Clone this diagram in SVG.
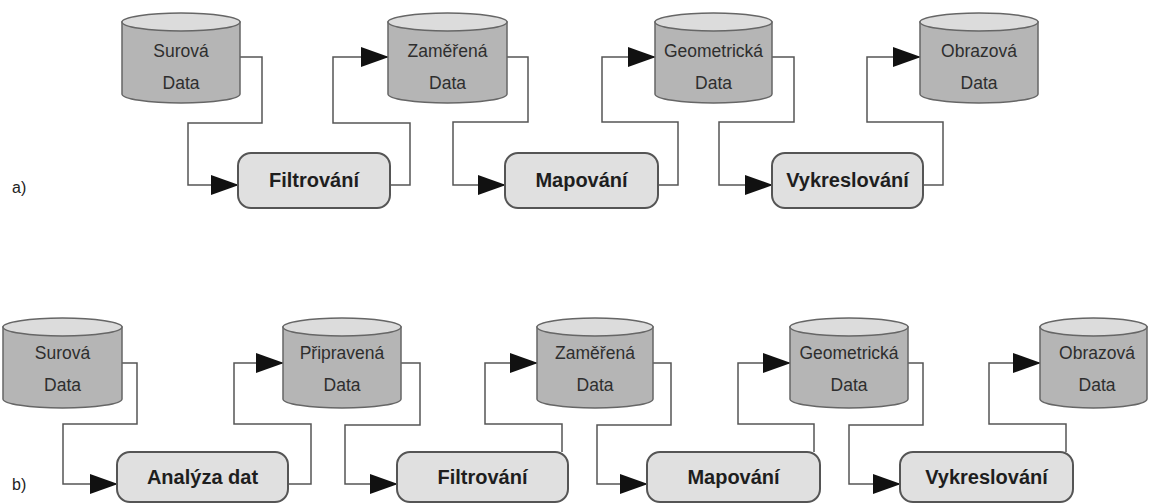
<svg xmlns="http://www.w3.org/2000/svg" width="1149" height="504" viewBox="0 0 1149 504">
<defs>
<style>
.body{fill:#b5b5b5;stroke:#666;stroke-width:1.5}
.top{fill:#dcdcdc;stroke:#666;stroke-width:1.5}
.box{fill:#e0e0e0;stroke:#555;stroke-width:2}
.ct{font-family:"Liberation Sans",Arial,sans-serif;font-size:17.5px;fill:#2e2e2e;text-anchor:middle}
.bt{font-family:"Liberation Sans",Arial,sans-serif;font-size:20px;font-weight:bold;fill:#1e1e1e;text-anchor:middle}
.lbl{font-family:"Liberation Sans",Arial,sans-serif;font-size:16px;fill:#222}
.c{fill:none;stroke:#555;stroke-width:1.5;marker-end:url(#ah)}
</style>
<marker id="ah" markerUnits="userSpaceOnUse" markerWidth="28" markerHeight="20" refX="27" refY="10" orient="auto" viewBox="0 0 28 20">
<path d="M0,0 L28,10 L0,20 Z" fill="#111"/>
</marker>
</defs>
<rect width="1149" height="504" fill="#fff"/>

<text class="lbl" x="12" y="193">a)</text>
<text class="lbl" x="12" y="490">b)</text>

<g id="connectors">
<path class="c" d="M240,57 H262 V123 H188 V185 H238"/>
<path class="c" d="M390,185 H410 V123 H333 V57 H388"/>
<path class="c" d="M507,57 H528 V122 H453 V185 H505"/>
<path class="c" d="M658,185 H678 V122 H602 V57 H655"/>
<path class="c" d="M772,57 H794 V122 H719 V185 H772"/>
<path class="c" d="M923,185 H943 V122 H867 V57 H920"/>

<path class="c" d="M122,363 H137 V424 H63 V484 H117"/>
<path class="c" d="M288,484 H311 V424 H234 V363 H283"/>
<path class="c" d="M401,363 H420 V425 H345 V484 H397"/>
<path class="c" d="M562,452 V424 H485 V363 H537"/>
<path class="c" d="M653,363 H671 V425 H597 V484 H647"/>
<path class="c" d="M814,452 V424 H738 V363 H790"/>
<path class="c" d="M908,363 H923 V425 H849 V484 H900"/>
<path class="c" d="M1066,452 V424 H989 V363 H1040"/>
</g>

<!-- Row a -->
<g id="a-surova">
<path class="body" d="M122,22 V94 A59,9 0 0 0 240,94 V22 Z"/>
<ellipse class="top" cx="181" cy="22" rx="59" ry="9"/>
<text class="ct" x="181" y="57">Surová</text>
<text class="ct" x="181" y="89">Data</text>
</g>
<g id="a-filtrovani">
<rect class="box" x="238" y="153" width="152" height="55" rx="13"/>
<text class="bt" x="314" y="187">Filtrování</text>
</g>
<g id="a-zamerena">
<path class="body" d="M388,22 V94 A59.5,9 0 0 0 507,94 V22 Z"/>
<ellipse class="top" cx="447.5" cy="22" rx="59.5" ry="9"/>
<text class="ct" x="447.5" y="57">Zaměřená</text>
<text class="ct" x="447.5" y="89">Data</text>
</g>
<g id="a-mapovani">
<rect class="box" x="505" y="153" width="153" height="55" rx="13"/>
<text class="bt" x="581.5" y="187">Mapování</text>
</g>
<g id="a-geometricka">
<path class="body" d="M655,22 V94 A58.5,9 0 0 0 772,94 V22 Z"/>
<ellipse class="top" cx="713.5" cy="22" rx="58.5" ry="9"/>
<text class="ct" x="713.5" y="57">Geometrická</text>
<text class="ct" x="713.5" y="89">Data</text>
</g>
<g id="a-vykreslovani">
<rect class="box" x="772" y="153" width="151" height="55" rx="13"/>
<text class="bt" x="847.5" y="187">Vykreslování</text>
</g>
<g id="a-obrazova">
<path class="body" d="M920,22 V94 A59,9 0 0 0 1038,94 V22 Z"/>
<ellipse class="top" cx="979" cy="22" rx="59" ry="9"/>
<text class="ct" x="979" y="57">Obrazová</text>
<text class="ct" x="979" y="89">Data</text>
</g>

<!-- Row b -->
<g id="b-surova">
<path class="body" d="M3,327 V399 A59.5,9 0 0 0 122,399 V327 Z"/>
<ellipse class="top" cx="62.5" cy="327" rx="59.5" ry="9"/>
<text class="ct" x="62.5" y="359">Surová</text>
<text class="ct" x="62.5" y="391">Data</text>
</g>
<g id="b-analyza">
<rect class="box" x="117" y="452" width="171" height="50" rx="13"/>
<text class="bt" x="202.5" y="484">Analýza dat</text>
</g>
<g id="b-pripravena">
<path class="body" d="M283,327 V399 A59,9 0 0 0 401,399 V327 Z"/>
<ellipse class="top" cx="342" cy="327" rx="59" ry="9"/>
<text class="ct" x="342" y="359">Připravená</text>
<text class="ct" x="342" y="391">Data</text>
</g>
<g id="b-filtrovani">
<rect class="box" x="397" y="452" width="171" height="50" rx="13"/>
<text class="bt" x="482.5" y="484">Filtrování</text>
</g>
<g id="b-zamerena">
<path class="body" d="M537,327 V399 A58,9 0 0 0 653,399 V327 Z"/>
<ellipse class="top" cx="595" cy="327" rx="58" ry="9"/>
<text class="ct" x="595" y="359">Zaměřená</text>
<text class="ct" x="595" y="391">Data</text>
</g>
<g id="b-mapovani">
<rect class="box" x="647" y="452" width="173" height="50" rx="13"/>
<text class="bt" x="733.5" y="484">Mapování</text>
</g>
<g id="b-geometricka">
<path class="body" d="M790,327 V399 A59,9 0 0 0 908,399 V327 Z"/>
<ellipse class="top" cx="849" cy="327" rx="59" ry="9"/>
<text class="ct" x="849" y="359">Geometrická</text>
<text class="ct" x="849" y="391">Data</text>
</g>
<g id="b-vykreslovani">
<rect class="box" x="900" y="452" width="173" height="50" rx="13"/>
<text class="bt" x="986.5" y="484">Vykreslování</text>
</g>
<g id="b-obrazova">
<path class="body" d="M1040,327 V399 A53.5,9 0 0 0 1147,399 V327 Z"/>
<ellipse class="top" cx="1093.5" cy="327" rx="53.5" ry="9"/>
<text class="ct" x="1097" y="359">Obrazová</text>
<text class="ct" x="1097" y="391">Data</text>
</g>
</svg>
